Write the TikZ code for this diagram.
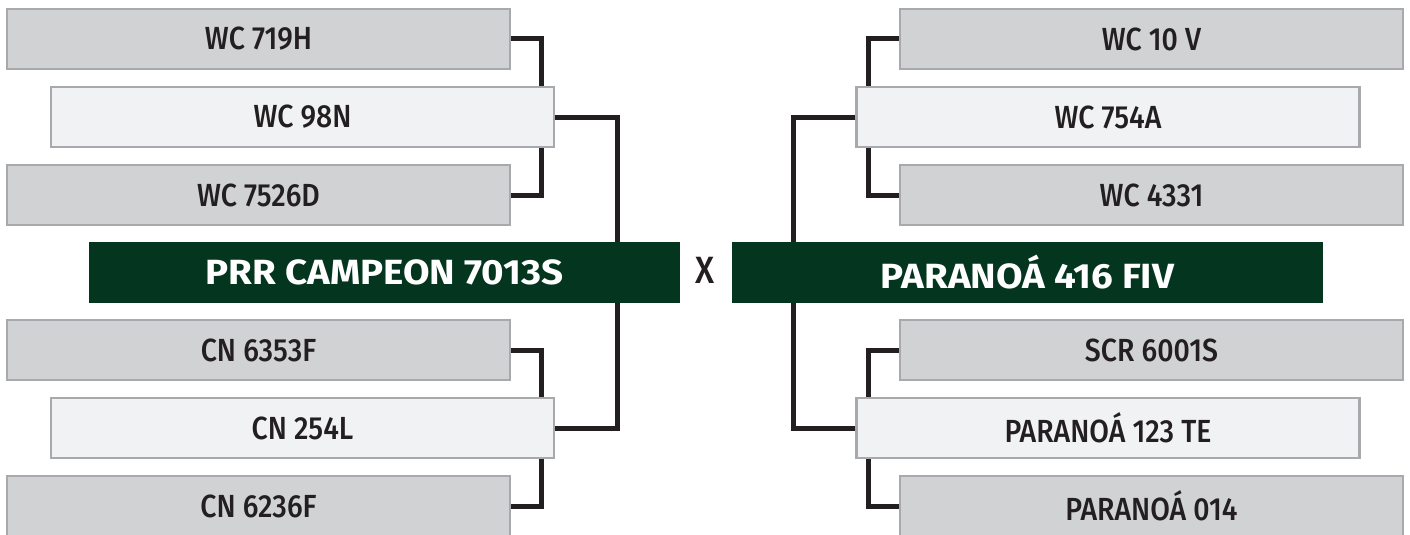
\documentclass[tikz,border=0pt]{standalone}
\usepackage{fontspec}
\setmainfont{Fira Sans Medium}[FakeStretch=0.89]
\newfontfamily\boldface{Fira Sans Bold}[FakeStretch=1.1]
\definecolor{boxgray}{HTML}{D1D2D4}
\definecolor{boxlight}{HTML}{F1F2F3}
\definecolor{boxedge}{HTML}{A7A9AC}
\definecolor{dgreen}{HTML}{04361F}
\definecolor{ink}{HTML}{231F20}
\begin{document}
\begin{tikzpicture}[x=1pt,y=-1pt,
  graybox/.style={draw=boxedge,line width=2.5pt,fill=boxgray,minimum width=503pt,minimum height=60pt,inner sep=0pt,text=ink,font=\fontsize{32}{36}\selectfont},
  lightbox/.style={graybox,fill=boxlight},
  champ/.style={fill=dgreen,minimum width=591pt,minimum height=61pt,inner sep=0pt,text=white,font=\boldface\fontsize{35}{40}\selectfont},
  link/.style={draw=ink,line width=5pt}]
\useasboundingbox (0,0) rectangle (1410,535);
% left side
\node[graybox]  (a1) at (258.5,39) {WC 719H};
\node[lightbox] (a2) at (302.5,117) {WC 98N};
\node[graybox]  (a3) at (258.5,195) {WC 7526D};
\node[champ]    (ca) at (384.5,272.5) {PRR CAMPEON 7013S};
\node[graybox]  (a4) at (258.5,350) {CN 6353F};
\node[lightbox] (a5) at (302.5,428) {CN 254L};
\node[graybox]  (a6) at (258.5,506) {CN 6236F};
% right side
\node[graybox]  (b1) at (1151.5,39) {WC 10 V};
\node[lightbox] (b2) at (1108,117) {WC 754A};
\node[graybox]  (b3) at (1151.5,195) {WC 4331};
\node[champ]    (cb) at (1027.5,272.5) {PARANOÁ 416 FIV};
\node[graybox]  (b4) at (1151.5,350) {SCR 6001S};
\node[lightbox] (b5) at (1108,428) {PARANOÁ 123 TE};
\node[graybox]  (b6) at (1151.5,506) {PARANOÁ 014};
\node[text=ink,inner sep=0pt,font=\fontsize{38}{42}\selectfont] (vs) at (704.5,270) {X};
% junction columns
\coordinate (ja) at (541.5,0);
\coordinate (jA) at (617.5,0);
\coordinate (jb) at (868,0);
\coordinate (jB) at (793,0);
% left connectors
\draw[link] (a1.east) -| (a2.north -| ja);
\draw[link] (a3.east) -| (a2.south -| ja);
\draw[link] (a4.east) -| (a5.north -| ja);
\draw[link] (a6.east) -| (a5.south -| ja);
\draw[link] (a2.east) -| (ca.north -| jA);
\draw[link] (a5.east) -| (ca.south -| jA);
% right connectors
\draw[link] (b1.west) -| (b2.north -| jb);
\draw[link] (b3.west) -| (b2.south -| jb);
\draw[link] (b4.west) -| (b5.north -| jb);
\draw[link] (b6.west) -| (b5.south -| jb);
\draw[link] (b2.west) -| (cb.north -| jB);
\draw[link] (b5.west) -| (cb.south -| jB);
\end{tikzpicture}
\end{document}
